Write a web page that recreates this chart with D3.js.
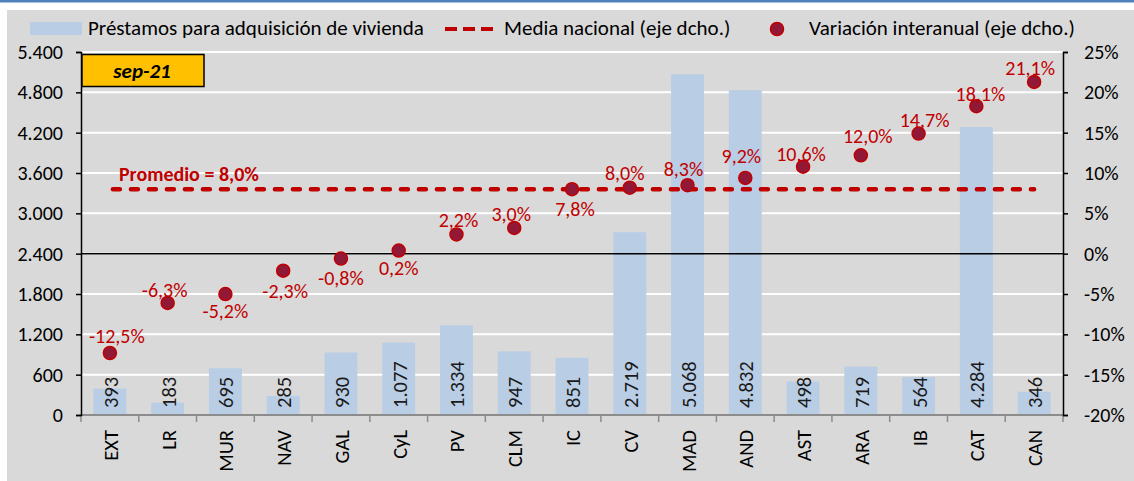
<!DOCTYPE html>
<html>
<head>
<meta charset="utf-8">
<script src="https://cdn.jsdelivr.net/npm/d3@7"></script>
<style>
  body { margin: 0; background: #fff; }
  svg { display: block; font-family: Carlito, Calibri, Lato, "Liberation Sans", sans-serif; }
</style>
</head>
<body>
<div class="canvas"></div>
<script>
// data
const regions = ['EXT','LR','MUR','NAV','GAL','CyL','PV','CLM','IC','CV','MAD','AND','AST','ARA','IB','CAT','CAN'];
const loans = [393,183,695,285,930,1077,1334,947,851,2719,5068,4832,498,719,564,4284,346];
const yoy = [-12.5,-6.3,-5.2,-2.3,-0.8,0.2,2.2,3.0,7.8,8.0,8.3,9.2,10.6,12.0,14.7,18.1,21.1];
const nationalMean = 8.0;
const leftTicks = [0,600,1200,1800,2400,3000,3600,4200,4800,5400];
const rightTicks = [-20,-15,-10,-5,0,5,10,15,20,25];
const period = 'sep-21';

const W = 1134, H = 481;
const fmtNum = d3.formatLocale({decimal: ',', thousands: '.', grouping: [3]}).format(',');
const fmtPct = d => d.toFixed(1).replace('.', ',') + '%';

const svg = d3.select('.canvas')
  .append('svg')
  .attr('width', W)
  .attr('height', H);

// frame
svg.append('rect').attr('x', 0).attr('y', 0).attr('width', W).attr('height', 2.5).attr('fill', '#4f81bd');
svg.append('rect').attr('x', 7).attr('y', 10).attr('width', W - 7).attr('height', H - 10).attr('fill', '#d9d9d9');

// create margins and dimensions
const margin = {top: 52, left: 81};
const graphWidth = 1063 - margin.left;
const graphHeight = 415 - margin.top;

const graph = svg.append('g')
  .attr('transform', `translate(${margin.left},${margin.top})`);

const x = d3.scaleBand()
  .domain(regions)
  .range([0, graphWidth])
  .paddingInner(0.43)
  .paddingOuter(0.215);
const y = d3.scaleLinear().domain([0, 5400]).range([graphHeight, 0]);
const y2 = d3.scaleLinear().domain([-20, 25]).range([graphHeight, 0]);
const cx = d => x(d) + x.bandwidth() / 2;

// gridlines
graph.append('g')
  .selectAll('line')
  .data(leftTicks.slice(1))
  .join('line')
    .attr('x1', 0).attr('x2', graphWidth)
    .attr('y1', d => y(d)).attr('y2', d => y(d))
    .attr('stroke', '#fff').attr('stroke-width', 2);

// bars
const bars = regions.map((r, i) => ({name: r, value: loans[i]}));
graph.append('g')
  .selectAll('rect')
  .data(bars)
  .join('rect')
    .attr('x', d => x(d.name))
    .attr('y', d => y(d.value))
    .attr('width', x.bandwidth())
    .attr('height', d => graphHeight - y(d.value))
    .attr('fill', '#b9cde5');

graph.append('g')
  .selectAll('text')
  .data(bars)
  .join('text')
    .attr('transform', d => `translate(${cx(d.name) + 8},${graphHeight - 7}) rotate(-90)`)
    .attr('font-size', 20.5)
    .attr('fill', '#1a1a1a')
    .text(d => fmtNum(d.value));

// zero line of right axis
graph.append('line')
  .attr('x1', 0).attr('x2', graphWidth)
  .attr('y1', y2(0)).attr('y2', y2(0))
  .attr('stroke', '#000').attr('stroke-width', 1.5);

// x axis
const xAxisGroup = graph.append('g')
  .attr('transform', `translate(0,${graphHeight})`);
xAxisGroup.append('line')
  .attr('x1', 0).attr('x2', graphWidth)
  .attr('stroke', '#8c8c8c').attr('stroke-width', 2);
xAxisGroup.selectAll('.xtick')
  .data(d3.range(regions.length + 1))
  .join('line')
    .attr('x1', i => i * x.step() + x.step() * x.paddingOuter() - x.step() * x.paddingInner() / 2)
    .attr('x2', i => i * x.step() + x.step() * x.paddingOuter() - x.step() * x.paddingInner() / 2)
    .attr('y1', 0).attr('y2', 7)
    .attr('stroke', '#8c8c8c').attr('stroke-width', 1.5);
xAxisGroup.selectAll('text')
  .data(regions)
  .join('text')
    .attr('transform', d => `translate(${cx(d) + 8},15) rotate(-90)`)
    .attr('text-anchor', 'end')
    .attr('font-size', 20.5)
    .attr('fill', '#000')
    .text(d => d);

// y axes
const yAxis = d3.axisLeft(y).tickValues(leftTicks).tickSize(5).tickFormat(d => fmtNum(d));
const yAxis2 = d3.axisRight(y2).tickValues(rightTicks).tickSize(5).tickFormat(d => d + '%');
const yAxisGroup = graph.append('g').call(yAxis);
const yAxisGroup2 = graph.append('g').attr('transform', `translate(${graphWidth},0)`).call(yAxis2);
[yAxisGroup, yAxisGroup2].forEach(g => {
  g.select('.domain').attr('stroke', '#000').attr('stroke-width', 1.5);
  g.selectAll('.tick line').attr('stroke', '#000').attr('stroke-width', 1.5);
  g.selectAll('.tick text').attr('font-size', 20).attr('fill', '#000')
    .attr('font-family', 'Carlito, Calibri, Lato, sans-serif');
});
yAxisGroup.selectAll('.tick text').attr('x', -18);
yAxisGroup2.selectAll('.tick text').attr('x', 21);

// national mean line
graph.append('line')
  .attr('x1', cx(regions[0]) + 3).attr('x2', cx(regions[regions.length - 1]))
  .attr('y1', y2(nationalMean)).attr('y2', y2(nationalMean))
  .attr('stroke', '#c00000').attr('stroke-width', 4.5)
  .attr('stroke-linecap', 'round')
  .attr('stroke-dasharray', '7,11');
graph.append('text')
  .attr('x', cx(regions[0]) + 9).attr('y', y2(nationalMean) - 8)
  .attr('font-size', 20).attr('font-weight', 'bold').attr('fill', '#c00000')
  .text('Promedio = ' + fmtPct(nationalMean));

// yoy points
const pts = regions.map((r, i) => ({name: r, value: yoy[i]}));
// label nudges (dx, baseline dy) as placed in the original
const nudge = {
  EXT: [7, -10], LR: [-3, -6], MUR: [0, 24], NAV: [2, 27], GAL: [0, 26], CyL: [0, 24],
  PV: [2, -7], CLM: [-3, -7], IC: [3, 27], CV: [-5, -8], MAD: [-4, -9], AND: [-4, -15],
  AST: [-2, -6], ARA: [7, -12], IB: [6, -7], CAT: [4, -5], CAN: [-4, -7]
};
graph.append('g')
  .selectAll('circle')
  .data(pts)
  .join('circle')
    .attr('cx', d => cx(d.name))
    .attr('cy', d => y2(d.value) - 1.5)
    .attr('r', 6.5)
    .attr('fill', '#921838')
    .attr('stroke', '#c00000').attr('stroke-width', 1.5);
graph.append('g')
  .selectAll('text')
  .data(pts)
  .join('text')
    .attr('x', d => cx(d.name) + nudge[d.name][0])
    .attr('y', d => y2(d.value) - 1.5 + nudge[d.name][1])
    .attr('text-anchor', 'middle')
    .attr('font-size', 20)
    .attr('fill', '#c00000')
    .text(d => fmtPct(d.value));

// period badge
svg.append('rect')
  .attr('x', 82).attr('y', 54.5).attr('width', 122).attr('height', 32)
  .attr('fill', '#ffc000').attr('stroke', '#000').attr('stroke-width', 1.5);
svg.append('text')
  .attr('x', 142).attr('y', 77.5)
  .attr('text-anchor', 'middle')
  .attr('font-size', 21).attr('font-weight', 'bold').attr('font-style', 'italic')
  .text(period);

// legend
const legend = svg.append('g').attr('font-size', 21).attr('fill', '#000');
legend.append('rect').attr('x', 30).attr('y', 22).attr('width', 52).attr('height', 13).attr('fill', '#b9cde5');
legend.append('text').attr('x', 88).attr('y', 35).text('Préstamos para adquisición de vivienda');
legend.append('line').attr('x1', 445).attr('x2', 493).attr('y1', 29).attr('y2', 29)
  .attr('stroke', '#c00000').attr('stroke-width', 4).attr('stroke-dasharray', '12,6');
legend.append('text').attr('x', 504).attr('y', 35).text('Media nacional (eje dcho.)');
legend.append('circle').attr('cx', 777).attr('cy', 29).attr('r', 6.5)
  .attr('fill', '#921838').attr('stroke', '#c00000').attr('stroke-width', 1.5);
legend.append('text').attr('x', 809).attr('y', 35).text('Variación interanual (eje dcho.)');
</script>
</body>
</html>
